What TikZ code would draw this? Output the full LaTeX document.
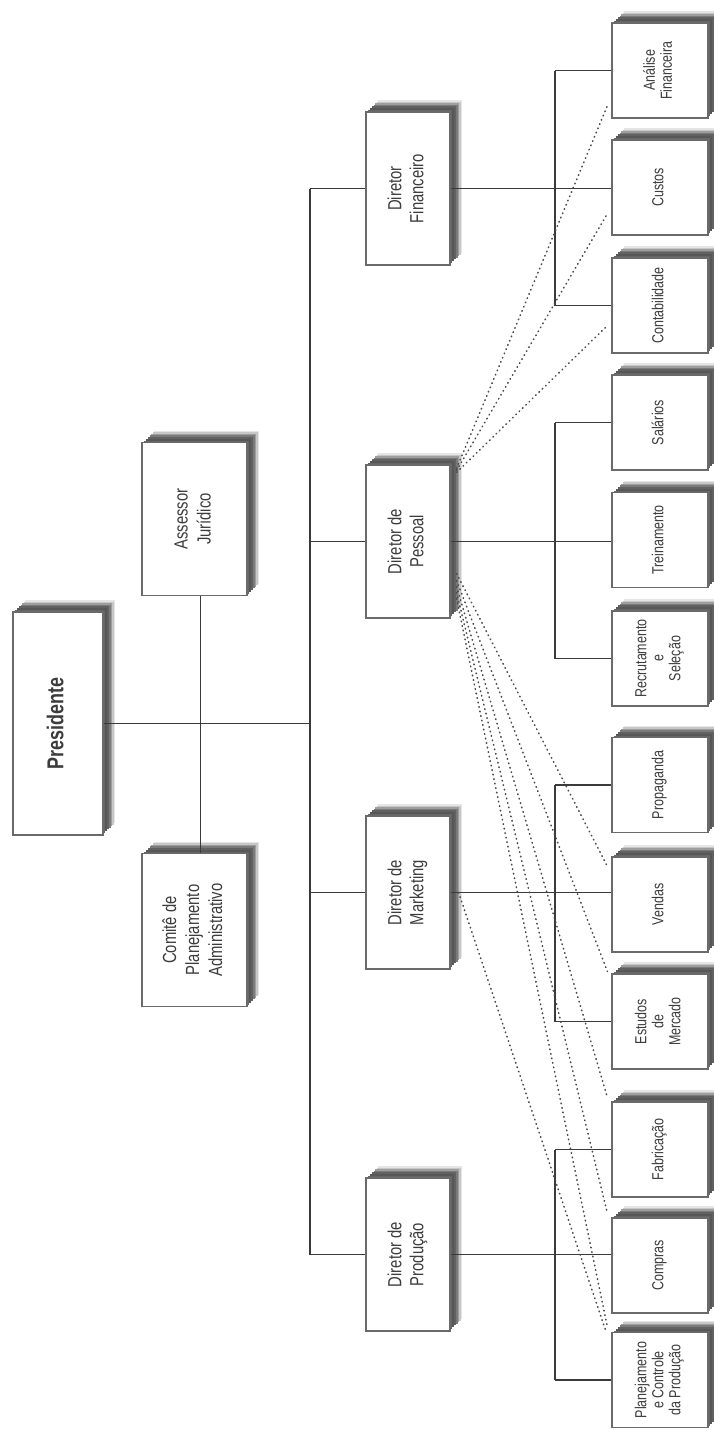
\documentclass[tikz,border=0pt]{standalone}
\usepackage{fontspec}
\usepackage{graphicx}
\setmainfont{Liberation Sans}[FakeStretch=0.78]
\usetikzlibrary{shadows}

\definecolor{inkline}{HTML}{3A3A3A}
\definecolor{boxline}{HTML}{6A6A6A}
\definecolor{labeltext}{HTML}{3C3C3C}
\definecolor{dotline}{HTML}{4A4A4A}

% text set upright in the page, reading from bottom to top
\newcommand{\rottext}[1]{\rotatebox{90}{\begin{tabular}{@{}c@{}}#1\end{tabular}}}

\tikzset{
  % layered shadow, widest and lightest first, darkest next to the box
  softshadow/.style={
    general shadow={shadow xshift=12pt, shadow yshift=12pt, fill=black!10},
    general shadow={shadow xshift=10.5pt, shadow yshift=10.5pt, fill=black!22},
    general shadow={shadow xshift=9pt, shadow yshift=9pt, fill=black!38},
    general shadow={shadow xshift=7.5pt, shadow yshift=7.5pt, fill=black!52},
    general shadow={shadow xshift=6pt, shadow yshift=6pt, fill=black!62},
    general shadow={shadow xshift=4pt, shadow yshift=4pt, fill=black!66},
    general shadow={shadow xshift=2pt, shadow yshift=2pt, fill=black!60}},
  orgbox/.style={draw=boxline, fill=white, line width=1.2pt, inner sep=0pt,
    text=labeltext, align=center, softshadow},
  presbox/.style={orgbox, minimum width=90pt, minimum height=223pt,
    font=\fontsize{23}{27}\selectfont},
  staffbox/.style={orgbox, minimum width=105pt, minimum height=153pt,
    font=\fontsize{19}{23}\selectfont},
  dirbox/.style={orgbox, minimum width=84pt, minimum height=153pt,
    font=\fontsize{19}{22}\selectfont},
  unitbox/.style={orgbox, minimum width=96pt, minimum height=95pt,
    font=\fontsize{16}{17}\selectfont},
  link/.style={draw=inkline, line width=1.2pt},
  dotlink/.style={draw=dotline, line width=1.6pt, line cap=round,
    dash pattern=on 0.6pt off 4pt},
}

\begin{document}
\begin{tikzpicture}[x=1pt, y=-1pt]
\useasboundingbox[fill=white] (0,0) rectangle (714,1430);

% top of the hierarchy and staff bodies
\node[presbox]  (pres) at (58,723.5)  {\rottext{\textbf{Presidente}}};
\node[staffbox] (ass)  at (194.5,519) {\rottext{Assessor\\Jurídico}};
\node[staffbox] (com)  at (194.5,930) {\rottext{Comitê de\\Planejamento\\Administrativo}};

% directors
\node[dirbox] (fin) at (408,188.5)  {\rottext{Diretor\\Financeiro}};
\node[dirbox] (pes) at (408,541.5)  {\rottext{Diretor de\\Pessoal}};
\node[dirbox] (mkt) at (408,892.5)  {\rottext{Diretor de\\Marketing}};
\node[dirbox] (prd) at (408,1254.5) {\rottext{Diretor de\\Produção}};

% departments
\node[unitbox] (anl)  at (660,70.5)   {\rottext{Análise\\Financeira}};
\node[unitbox] (cus)  at (660,187.5)  {\rottext{Custos}};
\node[unitbox] (cont) at (660,305.5)  {\rottext{Contabilidade}};
\node[unitbox] (sal)  at (660,422.5)  {\rottext{Salários}};
\node[unitbox] (trei) at (660,540)    {\rottext{Treinamento}};
\node[unitbox] (recr) at (660,658.5)  {\rottext{Recrutamento\\e\\Seleção}};
\node[unitbox] (prop) at (660,785)    {\rottext{Propaganda}};
\node[unitbox] (vend) at (660,904.5)  {\rottext{Vendas}};
\node[unitbox] (est)  at (660,1021.5) {\rottext{Estudos\\de\\Mercado}};
\node[unitbox] (fab)  at (660,1149.5) {\rottext{Fabricação}};
\node[unitbox] (comp) at (660,1265.5) {\rottext{Compras}};
\node[unitbox] (plan) at (660,1380)   {\rottext{Planejamento\\e Controle\\da Produção}};

% spines of the tree
\coordinate (spine) at (310,0);
\coordinate (rack)  at (555,0);

% president, staff and directors
\draw[link] (pres.east) -- (pres.east -| spine);
\draw[link] ([xshift=6pt]ass.south) -- ([xshift=6pt]com.north);
\draw[link] (spine |- fin.west) -- (spine |- prd.west);
\foreach \d in {fin,pes,mkt,prd}
  \draw[link] (spine |- \d.west) -- (\d.west);

% directors to their departments
\draw[link] (fin.east) -- (fin.east -| cus.west);
\draw[link] (pes.east) -- (pes.east -| trei.west);
\draw[link] (mkt.east) -- (mkt.east -| vend.west);
\draw[link] (prd.east) -- (prd.east -| comp.west);
\draw[link] (rack |- anl.west)  -- (rack |- cont.west);
\draw[link] (rack |- sal.west)  -- (rack |- recr.west);
\draw[link] (rack |- prop.west) -- (rack |- est.west);
\draw[link] (rack |- fab.west)  -- (rack |- plan.west);
\foreach \u in {anl,cont,sal,recr,prop,est,fab,plan}
  \draw[link] (rack |- \u.west) -- (\u.west);

% functional (dotted) links
\draw[dotlink] ([xshift=6pt,yshift=-4pt]pes.north east) -- ([xshift=-4pt,yshift=13pt]anl.south west);
\draw[dotlink] ([xshift=6pt,yshift=-6pt]pes.north east) -- ([xshift=-4pt,yshift=22pt]cus.south west);
\draw[dotlink] ([xshift=6pt,yshift=-8pt]pes.north east) -- ([xshift=-4pt,yshift=28pt]cont.south west);
\draw[dotlink] ([xshift=6pt,yshift=45pt]pes.south east) -- ([xshift=-5pt,yshift=-8pt]vend.north west);
\draw[dotlink] ([xshift=6pt,yshift=38pt]pes.south east) -- ([xshift=-4pt,yshift=2pt]est.north west);
\draw[dotlink] ([xshift=6pt,yshift=32pt]pes.south east) -- ([xshift=-4pt,yshift=4pt]fab.north west);
\draw[dotlink] ([xshift=6pt,yshift=26pt]pes.south east) -- ([xshift=-4pt,yshift=4pt]comp.north west);
\draw[dotlink] ([xshift=6pt,yshift=20pt]pes.south east) -- ([xshift=-4pt,yshift=5pt]plan.north west);
\draw[dotlink] ([xshift=8pt]mkt.east) -- ([xshift=-6pt,yshift=2pt]plan.north west);
\end{tikzpicture}
\end{document}
